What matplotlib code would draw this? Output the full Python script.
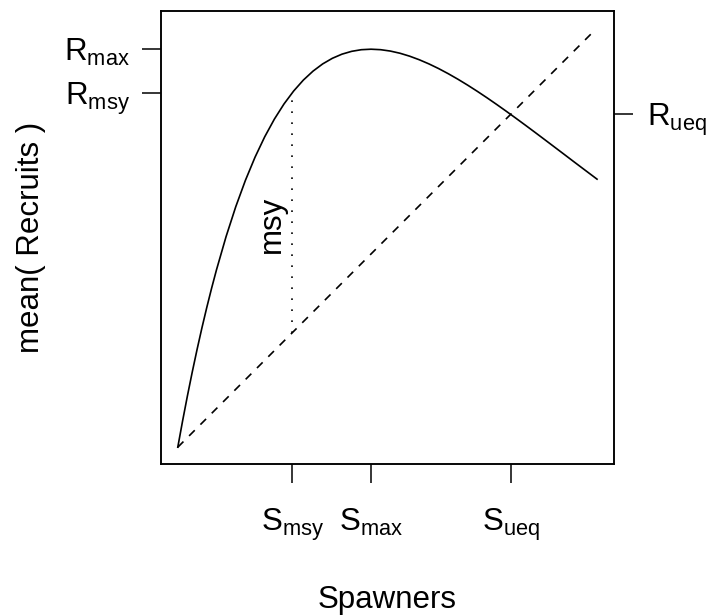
import matplotlib
matplotlib.use("Agg")
import matplotlib.pyplot as plt

plt.rcParams['font.family'] = ['Liberation Sans', 'DejaVu Sans']
plt.rcParams['mathtext.fontset'] = 'custom'
plt.rcParams['mathtext.rm'] = 'Liberation Sans'
plt.rcParams['mathtext.it'] = 'Liberation Sans:italic'
plt.rcParams['mathtext.bf'] = 'Liberation Sans:bold'

# Spawner-recruit curve (Smax = 1 unit)
spawners = [0.0, 0.025, 0.05, 0.075, 0.10, 0.125, 0.15, 0.175, 0.20, 0.25,
            0.30, 0.35, 0.40, 0.45, 0.50, 0.55, 0.60, 0.65, 0.70, 0.75,
            0.80, 0.85, 0.90, 0.95, 1.00, 1.05, 1.10, 1.15, 1.20, 1.25,
            1.30, 1.35, 1.40, 1.45, 1.50, 1.55, 1.60, 1.65, 1.70, 1.75,
            1.80, 1.85, 1.90, 1.95, 2.00, 2.05, 2.10, 2.17]
recruits = [0.0, 0.1365, 0.2663, 0.3896, 0.5067, 0.6178, 0.7230, 0.8227,
            0.9170, 1.0903, 1.2446, 1.3812, 1.5015, 1.6068, 1.6983, 1.7770,
            1.8440, 1.9003, 1.9466, 1.9840, 2.0130, 2.0345, 2.0491, 2.0575,
            2.0601, 2.0576, 2.0505, 2.0392, 2.0240, 2.0055, 1.9840, 1.9599,
            1.9333, 1.9047, 1.8743, 1.8423, 1.8090, 1.7745, 1.7391, 1.7029,
            1.6662, 1.6290, 1.5914, 1.5536, 1.5158, 1.4778, 1.4401, 1.3875]

# replacement line (R = S)
repl_S = [0.0, 2.142]
repl_R = [0.0, 2.142]

# reference points
S_msy, S_max, S_ueq = 0.593, 1.000, 1.725
R_msy, R_max, R_ueq = 1.835, 2.060, 1.725

x_tick_vals = [S_msy, S_max, S_ueq]
x_tick_labels = [r'$\mathrm{S}_{\mathrm{msy}}$', r'$\mathrm{S}_{\mathrm{max}}$', r'$\mathrm{S}_{\mathrm{ueq}}$']
left_tick_vals = [R_max, R_msy]
left_tick_labels = [r'$\mathrm{R}_{\mathrm{max}}$', r'$\mathrm{R}_{\mathrm{msy}}$']
right_tick_vals = [R_ueq]
right_tick_labels = [r'$\mathrm{R}_{\mathrm{ueq}}$']

FS = 22.5
LW = 1.2
W, H = 707, 616
fig = plt.figure(figsize=(W / 100, H / 100), dpi=100)
ax = fig.add_axes([161 / W, 1 - 464 / H, (614 - 161) / W, (464 - 11) / H])

ax.plot(spawners, recruits, color='black', lw=LW, solid_joinstyle='round')
ax.plot(repl_S, repl_R, color='black', lw=LW, dashes=(4.8, 4.8))
ax.plot([S_msy, S_msy], [S_msy, R_msy], color='black', lw=LW, dashes=(1.0, 5.6))
ax.text(0.488, 1.155, 'msy', rotation=90, ha='center', va='center', fontsize=FS)

lo, hi = 0.0, 2.171
pad = 0.04 * (hi - lo)
ax.set_xlim(lo - pad, hi + pad)
ax.set_ylim(lo - pad, hi + pad)

for s in ax.spines.values():
    s.set_linewidth(1.1)

ax.set_xticks(x_tick_vals)
ax.set_xticklabels(x_tick_labels, fontsize=FS)
ax.set_yticks(left_tick_vals)
ax.set_yticklabels(left_tick_labels, fontsize=FS)
ax.tick_params(axis='x', direction='out', length=13.7, width=1.1, pad=17)
ax.tick_params(axis='y', direction='out', length=13.7, width=1.1, pad=9)

axr = ax.twinx()
axr.set_ylim(ax.get_ylim())
axr.set_yticks(right_tick_vals)
axr.set_yticklabels(right_tick_labels, fontsize=FS)
axr.tick_params(axis='y', direction='out', length=13.7, width=1.1, pad=10)
for s in axr.spines.values():
    s.set_linewidth(1.1)

fig.text(31 / W, 1 - 237.5 / H, 'mean( Recruits )', rotation=90, ha='center', va='center', fontsize=FS)
fig.text(387.5 / W, 1 - 608 / H, 'Spawners', ha='center', va='baseline', fontsize=FS)

fig.savefig('out.png', dpi=100)
